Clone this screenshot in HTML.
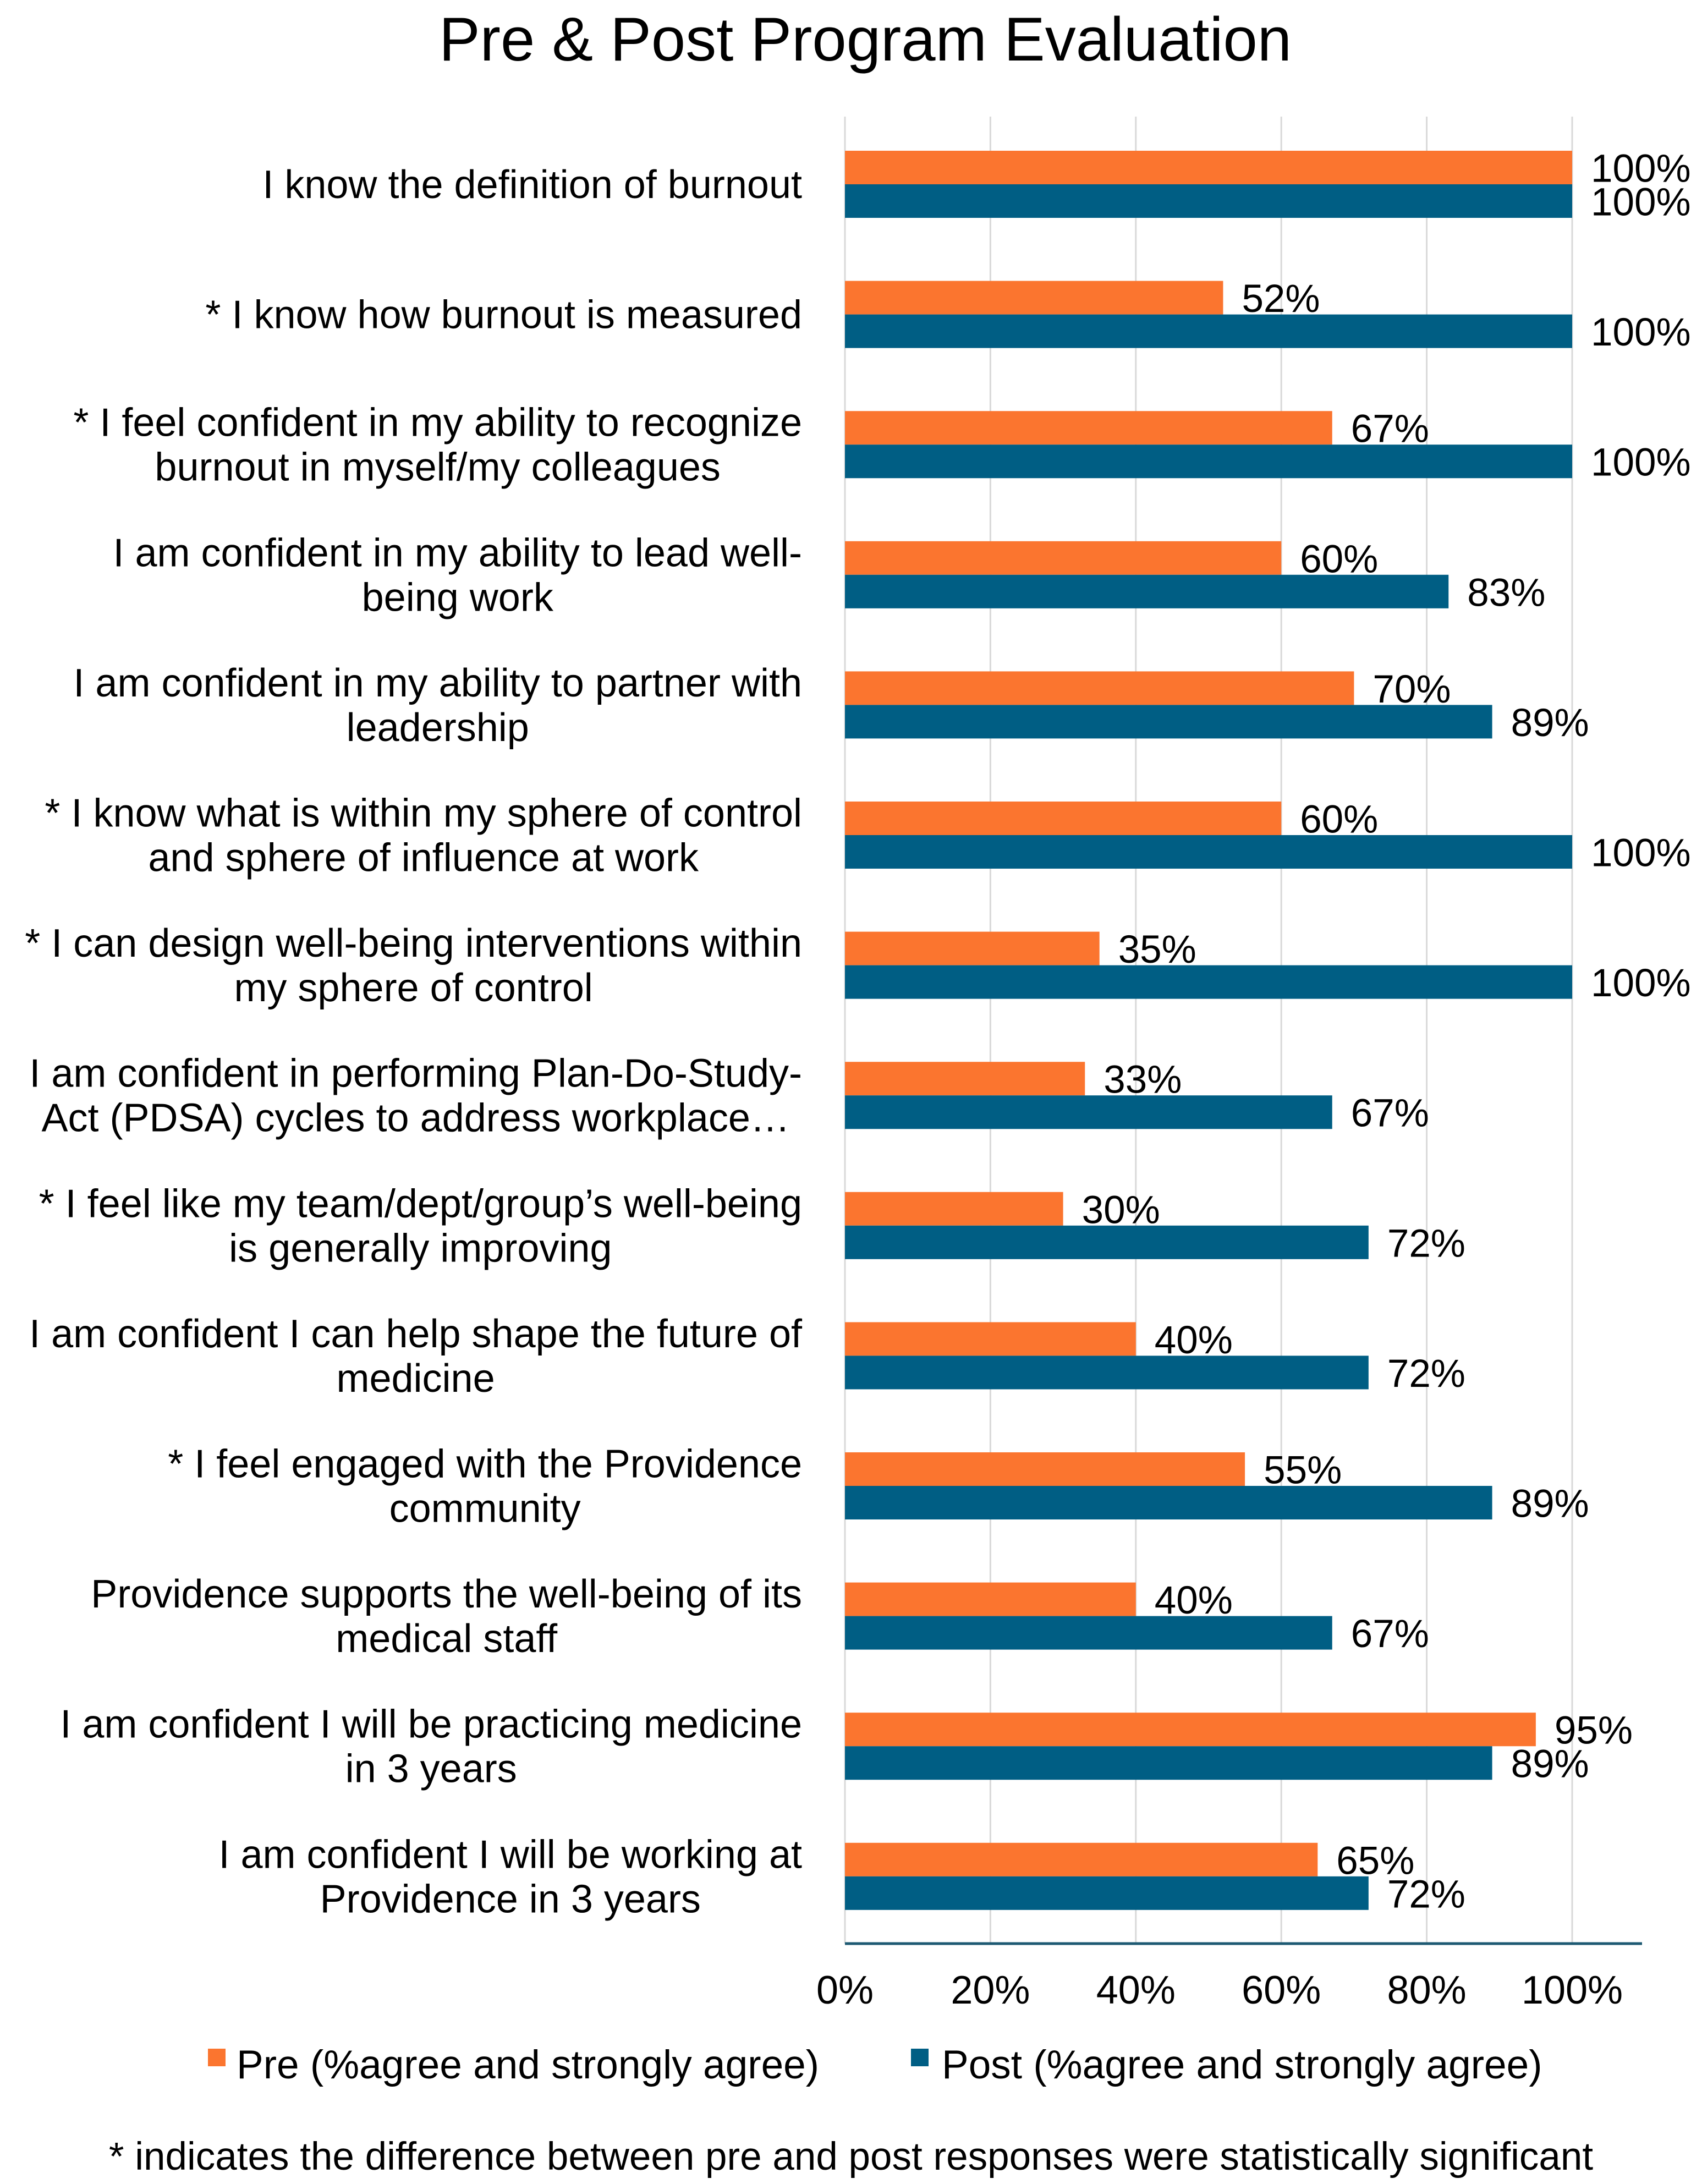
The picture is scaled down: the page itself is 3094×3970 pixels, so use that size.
<!DOCTYPE html>
<html><head><meta charset="utf-8"><style>
html,body{margin:0;padding:0;background:#fff;}
svg{display:block;font-family:"Liberation Sans",sans-serif;}
</style></head><body>
<svg id="chart" width="3094" height="3970" viewBox="0 0 3094 3970" xmlns="http://www.w3.org/2000/svg">
<rect width="3094" height="3970" fill="#fff"/>
<text x="1573" y="110" font-size="112" text-anchor="middle" fill="#000">Pre &amp; Post Program Evaluation</text>
<g id="grid"></g><g id="bars"></g><g id="labels"></g><g id="cats"></g><g id="ticks"></g>
<g>
<rect x="378" y="3724" width="32" height="32" fill="#FB752F"/>
<text x="430" y="3778" font-size="73">Pre (%agree and strongly agree)</text>
<rect x="1656" y="3724" width="32" height="32" fill="#005E84"/>
<text x="1712" y="3778" font-size="73">Post (%agree and strongly agree)</text>
</g>
<text x="1547" y="3944" font-size="71" text-anchor="middle">* indicates the difference between pre and post responses were statistically significant</text>
</svg>
<script>
const categories=[
["I know the definition of burnout"],
["* I know how burnout is measured"],
["* I feel confident in my ability to recognize","burnout in myself/my colleagues"],
["I am confident in my ability to lead well-","being work"],
["I am confident in my ability to partner with","leadership"],
["* I know what is within my sphere of control","and sphere of influence at work"],
["* I can design well-being interventions within","my sphere of control"],
["I am confident in performing Plan-Do-Study-","Act (PDSA) cycles to address workplace…"],
["* I feel like my team/dept/group’s well-being","is generally improving"],
["I am confident I can help shape the future of","medicine"],
["* I feel engaged with the Providence","community"],
["Providence supports the well-being of its","medical staff"],
["I am confident I will be practicing medicine","in 3 years"],
["I am confident I will be working at","Providence in 3 years"]];
const preValues=[100,52,67,60,70,60,35,33,30,40,55,40,95,65];
const postValues=[100,100,100,83,89,100,100,67,72,72,89,67,89,72];
const tickValues=[0,20,40,60,80,100];
const NS="http://www.w3.org/2000/svg";
const X0=1536,X1=2858,TOP=212,AXY=3533,G0=274,STEP=236.6,BH=61;
const xs=v=>X0+(X1-X0)*v/100;
const gy=i=>G0+i*STEP;
function mk(p,tag,attrs){const e=document.createElementNS(NS,tag);for(const k in attrs)e.setAttribute(k,attrs[k]);document.getElementById(p).appendChild(e);return e;}
tickValues.forEach(t=>{
 const l=mk('grid','line',{x1:xs(t),x2:xs(t),y1:TOP,y2:AXY,stroke:'#d9d9d9','stroke-width':3});
 
 
 const tx=mk('ticks','text',{x:xs(t),y:3642,'font-size':72,'text-anchor':'middle'});
 tx.textContent=t+'%';
 
 
});
const ax=mk('grid','line',{x1:X0,x2:2985,y1:AXY,y2:AXY,stroke:'#1e5a73','stroke-width':5});


categories.forEach((c,i)=>{
 const y=gy(i);
 const b1=mk('bars','rect',{x:X0,y:y,width:xs(preValues[i])-X0,height:BH,fill:'#FB752F'});
 
 
 const b2=mk('bars','rect',{x:X0,y:y+BH,width:xs(postValues[i])-X0,height:BH,fill:'#005E84'});
 
 
 const l1=mk('labels','text',{x:xs(preValues[i])+34,y:y+BH/2+26,'font-size':71});
 l1.textContent=preValues[i]+'%';
 
 
 const l2=mk('labels','text',{x:xs(postValues[i])+34,y:y+BH*1.5+26,'font-size':71});
 l2.textContent=postValues[i]+'%';
 
 
 const cy=y+BH;
 const t=mk('cats','text',{'font-size':72,'text-anchor':'middle'});
 
 
 const n=c.length, lh=81;
 const spans=c.map((s,j)=>{const ts=document.createElementNS(NS,'tspan');ts.textContent=s;ts.setAttribute('y',cy+25+(j-(n-1)/2)*lh);t.appendChild(ts);return ts;});
 let w=0;spans.forEach(s=>{w=Math.max(w,s.getComputedTextLength());});
 const cx=1458-w/2;
 spans.forEach(s=>s.setAttribute('x',cx));
});
</script>
</body></html>
